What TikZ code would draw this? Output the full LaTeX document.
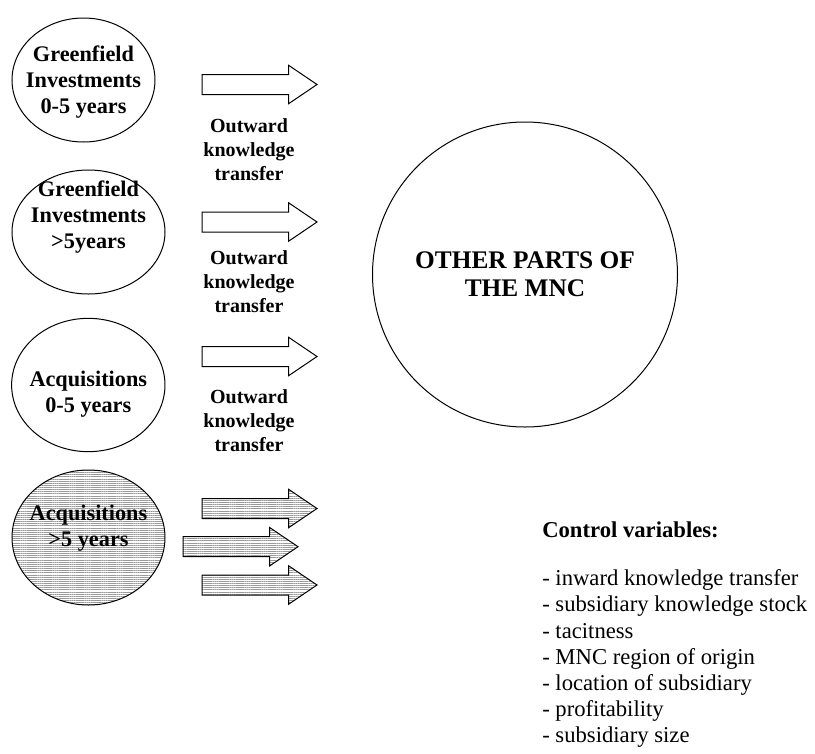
\documentclass[tikz,border=0pt]{standalone}
\usepackage{fontspec}
\setmainfont{Liberation Serif}
\usetikzlibrary{calc,positioning,shapes.geometric,patterns.meta}
\tikzset{
  unit/.style={ellipse,draw=black,line width=0.75pt,inner sep=0pt},
  hatch/.style={pattern={Lines[angle=0,distance=1.6pt,line width=0.4pt]},pattern color=black!40},
  utxt/.style={font=\bfseries\fontsize{16.7}{19.6}\selectfont,align=center,inner sep=0pt},
  otxt/.style={font=\bfseries\fontsize{15}{18}\selectfont,align=center,inner sep=0pt},
  ctxt/.style={font=\fontsize{17}{19.6}\selectfont,align=left,inner sep=0pt},
  blockarr/.pic={\draw[line width=0.75pt,#1] (0,-10)--(86.5,-10)--(86.5,-19.3)--(115,0)--(86.5,19.3)--(86.5,10)--(0,10)--cycle;},
  blockarr/.default={fill=white},
}
\begin{document}
\begin{tikzpicture}[x=0.75pt,y=-0.75pt]
  \useasboundingbox (0,0) rectangle (815,754);
  % subsidiary types (left)
  \node[unit,minimum width=107.25pt,minimum height=93pt] (g1) at (83.5,80){};
  \node[unit,minimum width=114.75pt,minimum height=93pt] (g2) at (88.5,232){};
  \node[unit,minimum width=115pt,minimum height=100pt] (q1) at (88.3,385){};
  \node[unit,hatch,minimum width=114.75pt,minimum height=101.25pt] (q2) at (88.5,537.5){};
  \node[utxt] (g1t) at ($(g1)+(0,1.7)$) {Greenfield\\Investments\\0-5 years};
  \node[utxt] (g2t) at ($(g2)+(0,-15.3)$) {Greenfield\\Investments\\>5years};
  \node[utxt] (q1t) at ($(q1)+(0,9)$) {Acquisitions\\0-5 years};
  \node[utxt] (q2t) at ($(q2)+(0,-9.5)$) {Acquisitions\\>5 years};
  % outward transfer arrows
  \foreach \i/\y/\ly in {1/84.5/150, 2/222/282, 3/356.5/421}{
    \pic (a\i) at (202,\y) {blockarr};
    \node[otxt] (o\i) at (249,\ly) {Outward\\knowledge\\transfer};
  }
  \foreach \i/\x/\y in {a/202/508.5, b/183/546.7, c/202/585}
    \pic (h\i) at (\x,\y) {blockarr=hatch};
  % rest of the MNC
  \node[circle,draw=black,line width=0.75pt,minimum size=228.75pt,inner sep=0pt,
        font=\bfseries\fontsize{19}{21}\selectfont,align=center] (mnc) at (525,274.5) {OTHER PARTS OF\\THE MNC};
  % controls
  \node[ctxt,font=\bfseries\fontsize{17}{19.6}\selectfont,anchor=base west] (cvh) at (542,537) {Control variables:};
  \node[ctxt,anchor=north west] (cvl) at (542,569.5) {- inward knowledge transfer\\- subsidiary knowledge stock\\- tacitness\\- MNC region of origin\\- location of subsidiary\\- profitability\\- subsidiary size};
\end{tikzpicture}
\end{document}
